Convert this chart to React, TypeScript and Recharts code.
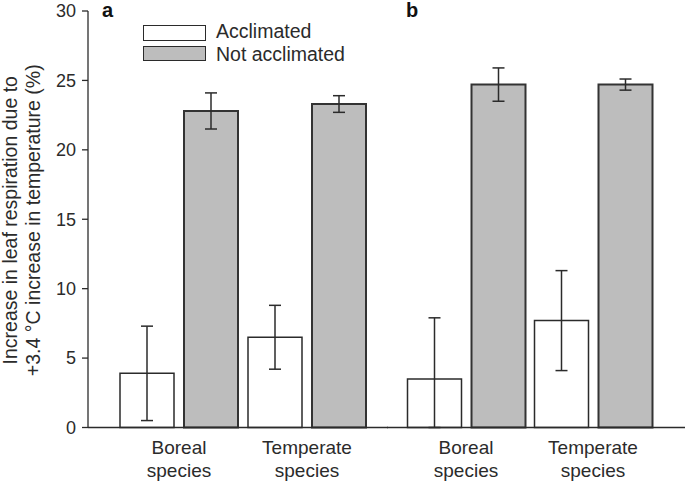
import React from "react";
import { BarChart, Bar, XAxis, YAxis, ErrorBar, Label } from "recharts";

const categories = ["Boreal species", "Temperate species"];
const yTicks = [0, 5, 10, 15, 20, 25, 30];
const legendLabels = ["Acclimated", "Not acclimated"];

// panel a
const aAcclimated = [3.9, 6.5];
const aAcclimatedErr = [3.4, 2.3];
const aNotAcclimated = [22.8, 23.3];
const aNotAcclimatedErr = [1.3, 0.6];

// panel b (boreal acclimated error is cut at zero)
const bAcclimated = [3.5, 7.7];
const bAcclimatedErr: [number, number][] = [
  [3.5, 4.4],
  [3.6, 3.6],
];
const bNotAcclimated = [24.7, 24.7];
const bNotAcclimatedErr = [1.2, 0.4];

const FONT = "'Liberation Sans', Arial, Helvetica, sans-serif";
const INK = "#2b2b2b";
const GREY = "#bdbdbd";

const panelA = categories.map((c, i) => ({
  name: c,
  acc: aAcclimated[i],
  accErr: aAcclimatedErr[i],
  not: aNotAcclimated[i],
  notErr: aNotAcclimatedErr[i],
}));

const panelB = categories.map((c, i) => ({
  name: c,
  acc: bAcclimated[i],
  accErr: bAcclimatedErr[i],
  not: bNotAcclimated[i],
  notErr: bNotAcclimatedErr[i],
}));

function CategoryTick({ x, y, payload }: any) {
  const [first, ...rest] = String(payload.value).split(" ");
  return (
    <text x={x} y={y} textAnchor="middle" fill={INK} fontSize={19} fontFamily={FONT}>
      <tspan x={x} dy={26}>{first}</tspan>
      <tspan x={x} dy={23}>{rest.join(" ")}</tspan>
    </text>
  );
}

function YTitle({ viewBox }: any) {
  const cy = viewBox.y + viewBox.height / 2 + 1;
  return (
    <text
      transform={`translate(0, ${cy}) rotate(-90)`}
      textAnchor="middle"
      fill={INK}
      fontSize={19.5}
      fontFamily={FONT}
    >
      <tspan x={0} y={17}>Increase in leaf respiration due to</tspan>
      <tspan x={0} y={39.5}>+3.4 °C increase in temperature (%)</tspan>
    </text>
  );
}

function Panel({ data, width, left, xPad, showTicks, letter }: any) {
  return (
    <div style={{ position: "absolute", left, top: 0, width, height: 483 }}>
      <BarChart
        width={width}
        height={483}
        data={data}
        margin={{ top: 11, right: 0, bottom: 0, left: showTicks ? 0 : 7 }}
        barSize={54}
        barGap={10}
      >
        <XAxis
          dataKey="name"
          height={55.5}
          padding={xPad}
          tickLine={false}
          tickSize={0}
          tickMargin={0}
          axisLine={{ stroke: INK, strokeWidth: 1.3 }}
          tick={<CategoryTick />}
          interval={0}
        />
        <YAxis
          domain={[0, 30]}
          ticks={yTicks}
          width={showTicks ? 88 : 0}
          tick={showTicks ? { fill: INK, fontSize: 18, fontFamily: FONT } : false}
          tickLine={showTicks ? { stroke: INK, strokeWidth: 1.3 } : false}
          tickSize={6}
          tickMargin={6}
          axisLine={{ stroke: INK, strokeWidth: 1.3 }}
        >
          {showTicks && <Label content={<YTitle />} />}
        </YAxis>
        <Bar dataKey="acc" fill="#ffffff" stroke={INK} strokeWidth={1.5} isAnimationActive={false}>
          <ErrorBar dataKey="accErr" width={6} stroke={INK} strokeWidth={1.5} direction="y" />
        </Bar>
        <Bar dataKey="not" fill={GREY} stroke="#333" strokeWidth={2} isAnimationActive={false}>
          <ErrorBar dataKey="notErr" width={6} stroke={INK} strokeWidth={1.5} direction="y" />
        </Bar>
      </BarChart>
      <div
        style={{
          position: "absolute",
          left: showTicks ? 102 : 26,
          top: 0,
          fontFamily: FONT,
          fontWeight: 900,
          fontSize: 20,
          lineHeight: 1,
          color: "#111",
        }}
      >
        {letter}
      </div>
    </div>
  );
}

function LegendBox() {
  const rows = [
    { boxTop: 25, boxH: 16, textTop: 21.5, fill: "#fff" },
    { boxTop: 46, boxH: 15, textTop: 44.5, fill: GREY },
  ];
  return (
    <>
      {legendLabels.map((label, i) => (
        <React.Fragment key={label}>
          <div
            style={{
              position: "absolute",
              left: 143,
              top: rows[i].boxTop,
              width: 63,
              height: rows[i].boxH,
              boxSizing: "border-box",
              border: `1.5px solid ${INK}`,
              background: rows[i].fill,
            }}
          />
          <div
            style={{
              position: "absolute",
              left: 216,
              top: rows[i].textTop,
              fontFamily: FONT,
              fontSize: 19.5,
              lineHeight: 1,
              color: INK,
              whiteSpace: "nowrap",
            }}
          >
            {label}
          </div>
        </React.Fragment>
      ))}
    </>
  );
}

export default function App() {
  return (
    <div
      style={{
        position: "absolute",
        left: 0,
        top: 0,
        width: 685,
        height: 483,
        background: "#fff",
        overflow: "hidden",
      }}
    >
      <Panel data={panelA} width={388} left={0} xPad={{ left: 27, right: 17 }} showTicks letter="a" />
      <Panel data={panelB} width={305} left={380} xPad={{ left: 15.5, right: 28.5 }} showTicks={false} letter="b" />
      <LegendBox />
    </div>
  );
}
